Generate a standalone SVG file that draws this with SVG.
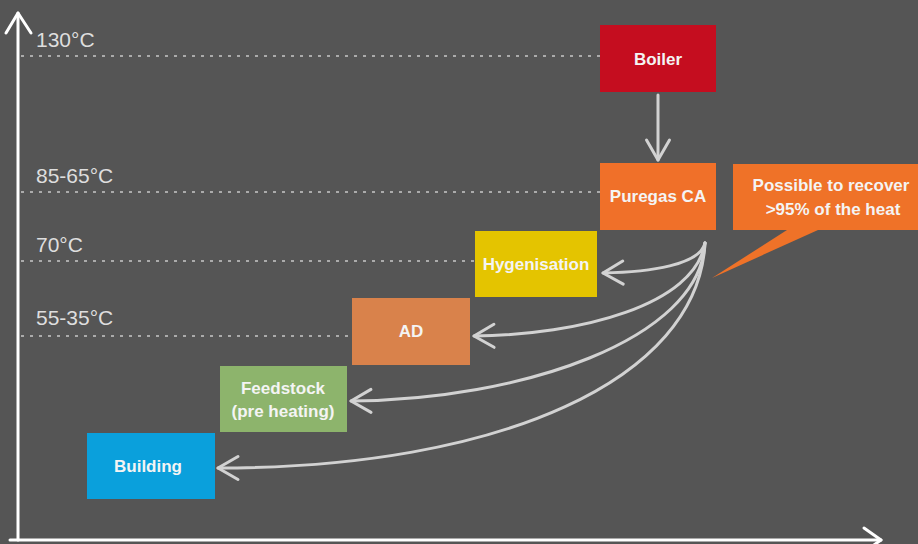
<svg xmlns="http://www.w3.org/2000/svg" width="918" height="544" viewBox="0 0 918 544">
  <style>
    .axis { stroke: #ffffff; stroke-width: 3; fill: none; stroke-linecap: round; stroke-linejoin: round; }
    .dots { stroke: #c8c8c8; stroke-width: 1.6; stroke-dasharray: 3 6; fill: none; }
    .lbl { font-family: "Liberation Sans", Arial, sans-serif; font-size: 21px; fill: #dedede; }
    .box text, .btxt { font-family: "Liberation Sans", Arial, sans-serif; font-size: 17px; font-weight: bold; fill: #f4f4f4; text-anchor: middle; }
    .conn { stroke: #d2d2d2; stroke-width: 3; fill: none; stroke-linecap: round; }
  </style>
  <defs>
    <marker id="chev" markerUnits="userSpaceOnUse" viewBox="-24 -14 28 28" markerWidth="28" markerHeight="28" refX="0" refY="0" orient="auto" overflow="visible">
      <path d="M-20,-11.5 L0,0 L-20,11.5" fill="none" stroke="#d2d2d2" stroke-width="3" stroke-linecap="round" stroke-linejoin="round"/>
    </marker>
  </defs>

  <rect x="0" y="0" width="918" height="544" fill="#555555"/>

  <g id="axes">
    <path class="axis" d="M18,540 L18,13"/>
    <path class="axis" d="M6,33 L18,13 L31,33"/>
    <path class="axis" d="M10,540 L881,540"/>
    <path class="axis" d="M864,528 L881,540 L864,552"/>
  </g>

  <g id="levels">
    <line class="dots" x1="21" y1="56" x2="600" y2="56"/>
    <line class="dots" x1="21" y1="192" x2="600" y2="192"/>
    <line class="dots" x1="21" y1="261" x2="475" y2="261"/>
    <line class="dots" x1="21" y1="336" x2="352" y2="336"/>
    <text class="lbl" x="36" y="47">130°C</text>
    <text class="lbl" x="36" y="183">85-65°C</text>
    <text class="lbl" x="36" y="252">70°C</text>
    <text class="lbl" x="36" y="325">55-35°C</text>
  </g>

  <g id="boiler" class="box">
    <rect x="600" y="25" width="116" height="67" fill="#c50d1f"/>
    <text x="658" y="65">Boiler</text>
  </g>
  <g id="puregas" class="box">
    <rect x="600" y="163" width="116" height="67" fill="#f07029"/>
    <text x="658" y="202">Puregas CA</text>
  </g>
  <g id="callout" class="box">
    <path d="M733,164 L918,164 L918,230 L818,230 L712,278 L787,230 L733,230 Z" fill="#ef7228"/>
    <text x="831" y="191">Possible to recover</text>
    <text x="833" y="215">&gt;95% of the heat</text>
  </g>
  <g id="hygenisation" class="box">
    <rect x="475" y="231" width="122" height="66" fill="#e4c400"/>
    <text x="536" y="270">Hygenisation</text>
  </g>
  <g id="ad" class="box">
    <rect x="352" y="298" width="118" height="67" fill="#d9824b"/>
    <text x="411" y="337">AD</text>
  </g>
  <g id="feedstock" class="box">
    <rect x="220" y="366" width="127" height="66" fill="#8db46c"/>
    <text x="283" y="394">Feedstock</text>
    <text x="283" y="417">(pre heating)</text>
  </g>
  <g id="building" class="box">
    <rect x="87" y="433" width="128" height="66" fill="#0aa0dc"/>
    <text x="148" y="472">Building</text>
  </g>

  <g id="connectors">
    <path class="conn" d="M658,95 L658,160" marker-end="url(#chev)"/>
    <path class="conn" d="M705,243 C700,265 650,272 603,273" marker-end="url(#chev)"/>
    <path class="conn" d="M705,243 C695,305 580,335 474,336" marker-end="url(#chev)"/>
    <path class="conn" d="M705,243 C700,340 520,400 351,401" marker-end="url(#chev)"/>
    <path class="conn" d="M705,243 C698,380 500,468 218,468" marker-end="url(#chev)"/>
  </g>
</svg>
